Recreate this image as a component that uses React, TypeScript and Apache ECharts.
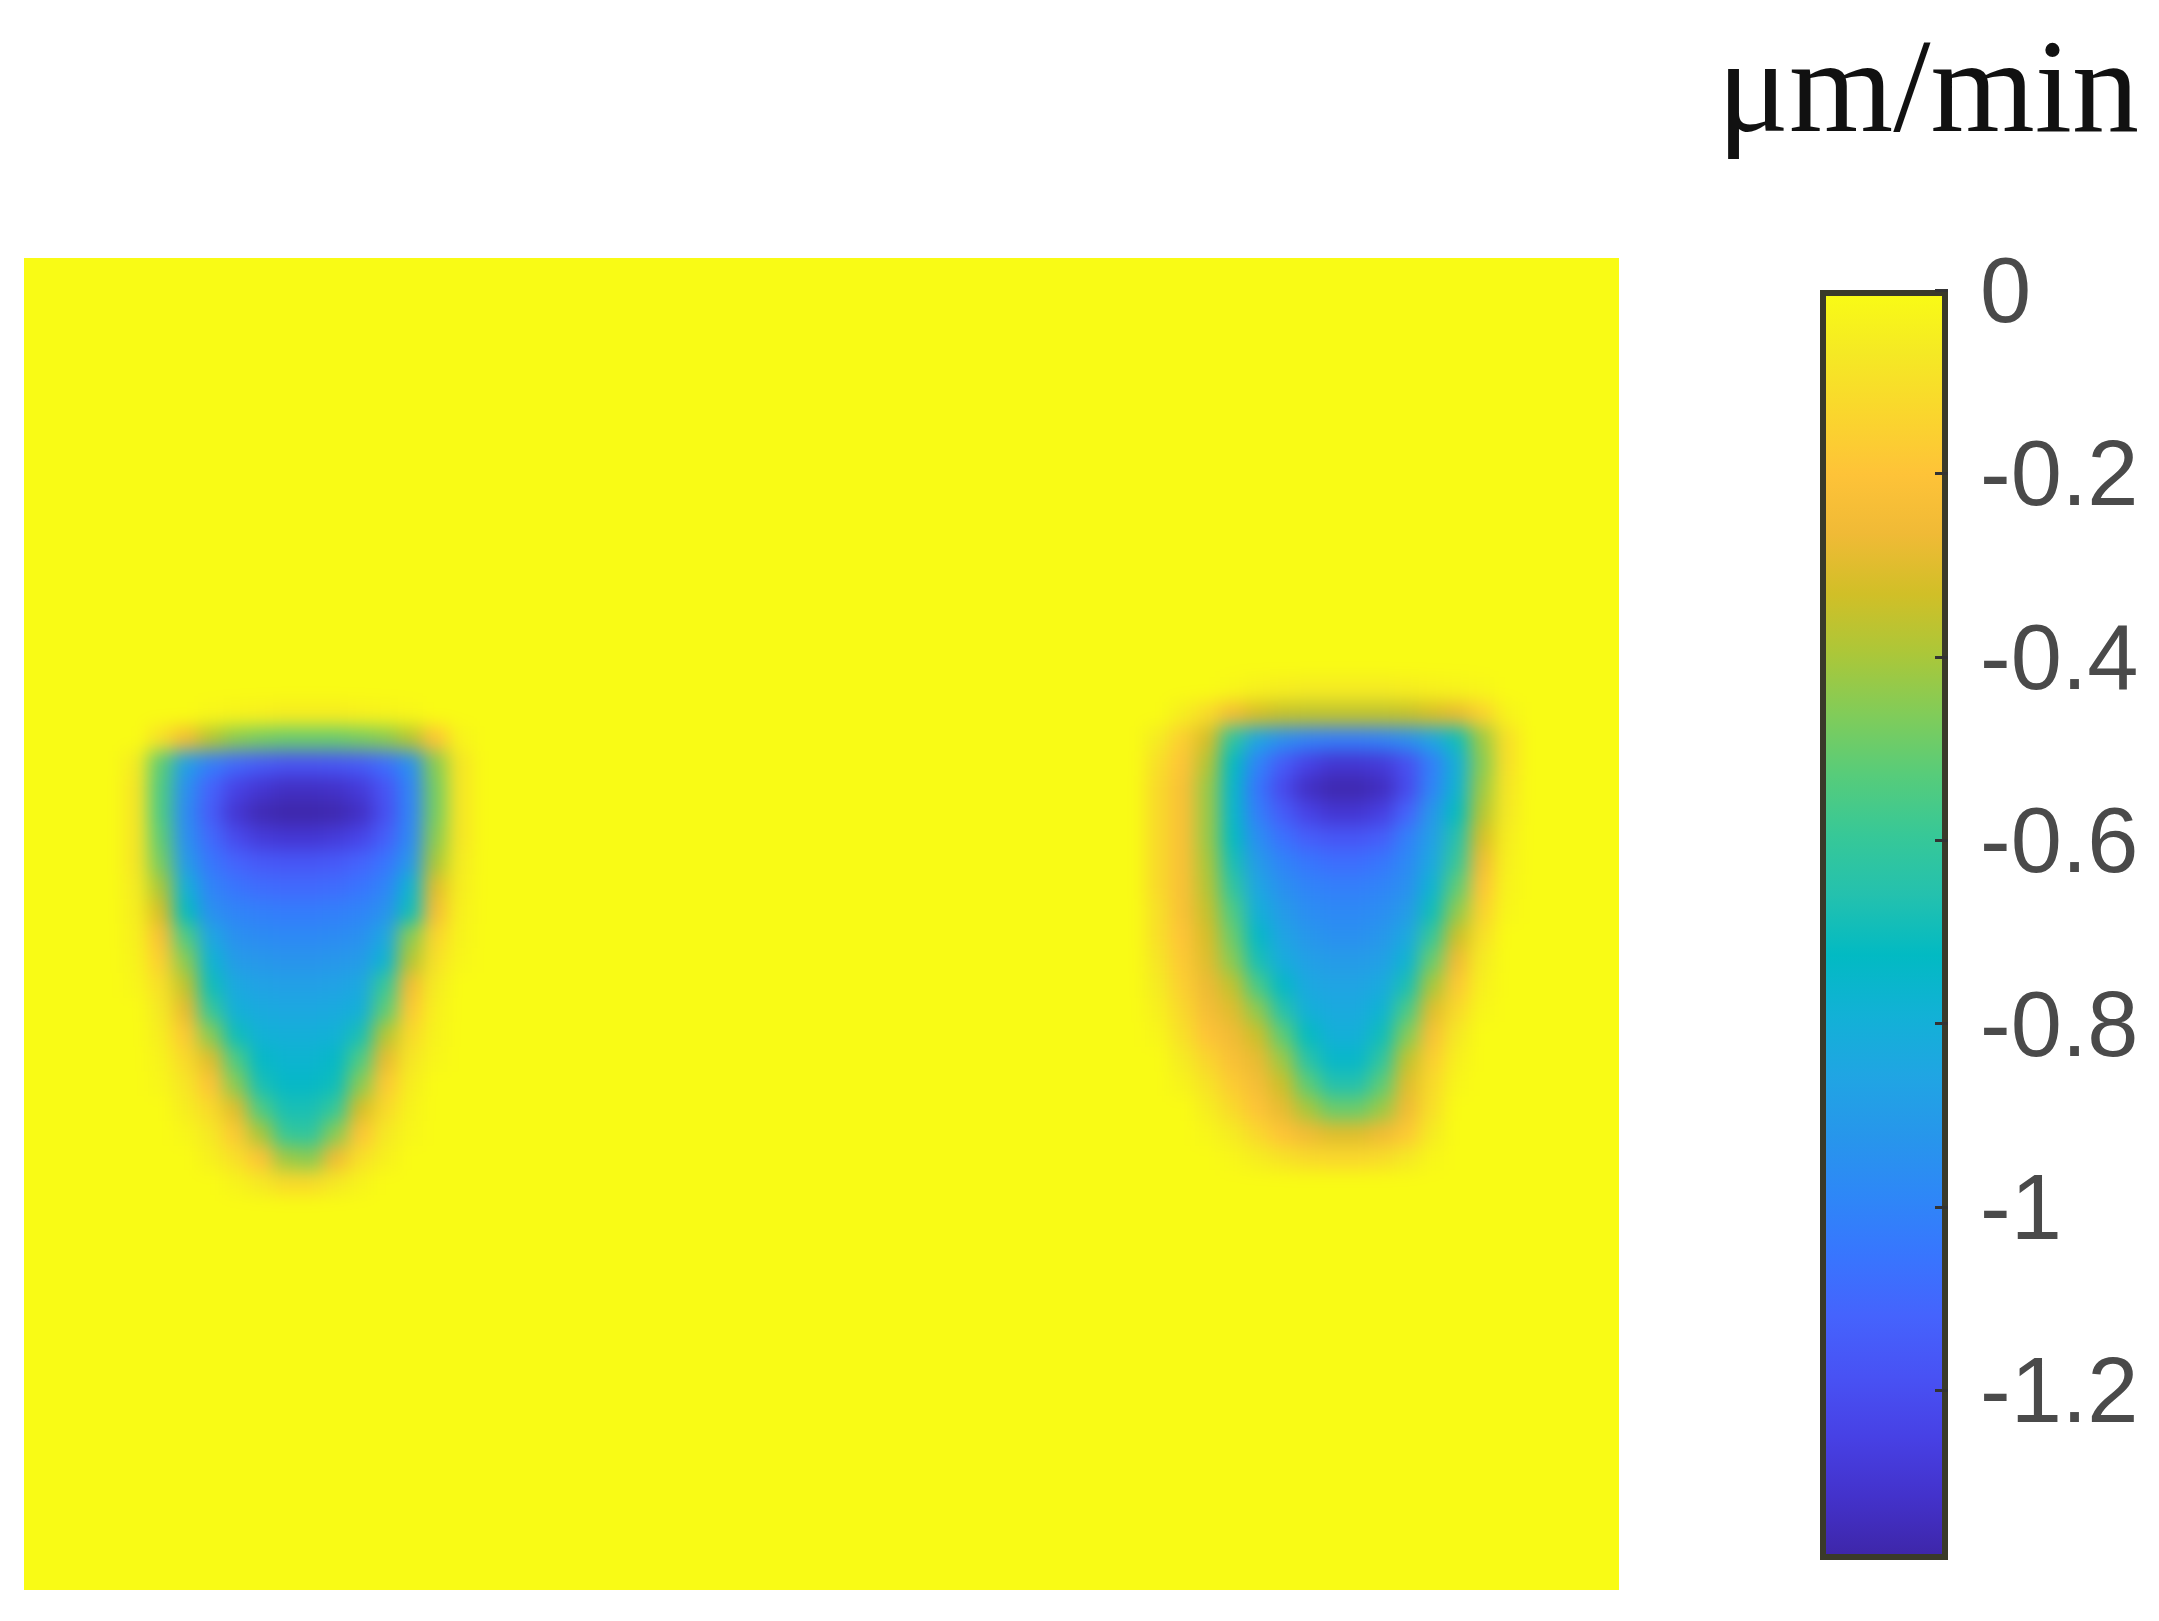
import React, { useEffect, useRef } from "react";
import * as echarts from "echarts";

// ---- data ----
const COLS = 64;
const ROWS = 54;
const VMIN = -1.385;
const VMAX = 0;
const TICKS = [0, -0.2, -0.4, -0.6, -0.8, -1, -1.2];
const UNIT = "μm/min";

// parula colormap stops (low -> high)
const PARULA = [
  "#3e26a8", "#4332cb", "#4741e5", "#4852f4", "#4563fd", "#3875fe", "#2e87f7",
  "#2796eb", "#20a5e3", "#12b1d6", "#02bac3", "#24c1ae", "#37c897", "#57cc7a",
  "#81cc59", "#abc739", "#d1bf27", "#f0ba36", "#fec338", "#fad62d", "#f5e924", "#f9fb15",
];

// left blob: rows 18..37, cols 4..18
const LEFT_COL0 = 4;
const LEFT_ROW0 = 18;
const LEFT_BLOB = [
  [0, 0, 0, -0.02, -0.03, -0.04, -0.05, -0.05, -0.05, -0.04, -0.03, -0.02, 0, 0, 0],
  [0, -0.1, -0.25, -0.38, -0.45, -0.48, -0.5, -0.5, -0.5, -0.48, -0.45, -0.38, -0.2, -0.03, 0],
  [-0.06, -0.52, -0.88, -1.02, -1.1, -1.15, -1.18, -1.18, -1.17, -1.15, -1.08, -0.95, -0.45, -0.08, 0],
  [-0.08, -0.55, -0.95, -1.12, -1.25, -1.3, -1.33, -1.33, -1.32, -1.28, -1.18, -1.0, -0.48, -0.08, 0],
  [-0.08, -0.55, -0.97, -1.15, -1.3, -1.36, -1.38, -1.38, -1.37, -1.33, -1.2, -1.0, -0.48, -0.08, 0],
  [-0.08, -0.52, -0.95, -1.1, -1.22, -1.28, -1.3, -1.3, -1.28, -1.24, -1.14, -0.98, -0.45, -0.08, 0],
  [-0.08, -0.48, -0.9, -1.05, -1.12, -1.16, -1.17, -1.17, -1.16, -1.12, -1.06, -0.92, -0.4, -0.06, 0],
  [-0.06, -0.4, -0.8, -1.0, -1.06, -1.09, -1.1, -1.1, -1.09, -1.06, -1.0, -0.78, -0.3, -0.05, 0],
  [-0.05, -0.32, -0.72, -0.95, -1.0, -1.02, -1.03, -1.03, -1.02, -1.0, -0.94, -0.7, -0.24, -0.04, 0],
  [-0.04, -0.22, -0.55, -0.85, -0.95, -0.97, -0.98, -0.98, -0.97, -0.95, -0.85, -0.45, -0.14, -0.03, 0],
  [-0.03, -0.16, -0.45, -0.78, -0.9, -0.92, -0.93, -0.93, -0.92, -0.9, -0.78, -0.38, -0.1, -0.02, 0],
  [-0.02, -0.1, -0.36, -0.7, -0.84, -0.87, -0.88, -0.88, -0.87, -0.84, -0.6, -0.25, -0.06, 0, 0],
  [0, -0.07, -0.28, -0.6, -0.8, -0.83, -0.84, -0.84, -0.83, -0.8, -0.52, -0.18, -0.04, 0, 0],
  [0, -0.05, -0.18, -0.45, -0.7, -0.79, -0.8, -0.8, -0.79, -0.68, -0.38, -0.12, -0.03, 0, 0],
  [0, -0.03, -0.12, -0.3, -0.55, -0.74, -0.77, -0.77, -0.74, -0.55, -0.28, -0.08, -0.02, 0, 0],
  [0, -0.02, -0.08, -0.2, -0.45, -0.68, -0.74, -0.74, -0.7, -0.45, -0.18, -0.05, 0, 0, 0],
  [0, 0, -0.05, -0.12, -0.3, -0.55, -0.68, -0.68, -0.6, -0.32, -0.12, -0.03, 0, 0, 0],
  [0, 0, -0.02, -0.07, -0.18, -0.4, -0.6, -0.62, -0.45, -0.2, -0.07, -0.02, 0, 0, 0],
  [0, 0, 0, -0.04, -0.1, -0.2, -0.42, -0.45, -0.26, -0.1, -0.04, 0, 0, 0, 0],
  [0, 0, 0, 0, -0.03, -0.07, -0.12, -0.12, -0.07, -0.03, 0, 0, 0, 0, 0],
];

// right blob: rows 17..36, cols 44..60
const RIGHT_COL0 = 44;
const RIGHT_ROW0 = 17;
const RIGHT_BLOB = [
  [0, 0, 0, 0, -0.02, -0.04, -0.05, -0.06, -0.06, -0.06, -0.06, -0.05, -0.04, -0.03, -0.02, 0, 0],
  [0, 0, -0.05, -0.12, -0.25, -0.32, -0.35, -0.36, -0.36, -0.36, -0.36, -0.35, -0.32, -0.28, -0.15, -0.03, 0],
  [0, -0.06, -0.16, -0.32, -0.62, -0.85, -0.95, -1.0, -1.02, -1.02, -1.0, -0.95, -0.85, -0.7, -0.42, -0.1, 0],
  [0, -0.1, -0.2, -0.38, -0.72, -1.0, -1.15, -1.25, -1.3, -1.3, -1.28, -1.2, -1.02, -0.8, -0.45, -0.1, 0],
  [0, -0.12, -0.22, -0.42, -0.75, -1.05, -1.22, -1.33, -1.37, -1.37, -1.34, -1.22, -1.0, -0.78, -0.42, -0.08, 0],
  [0, -0.12, -0.22, -0.42, -0.75, -1.02, -1.15, -1.25, -1.3, -1.3, -1.26, -1.12, -0.92, -0.72, -0.38, -0.07, 0],
  [0, -0.12, -0.22, -0.42, -0.72, -0.96, -1.07, -1.14, -1.17, -1.17, -1.14, -1.02, -0.88, -0.66, -0.32, -0.05, 0],
  [0, -0.12, -0.22, -0.4, -0.68, -0.9, -1.0, -1.05, -1.08, -1.08, -1.05, -0.98, -0.84, -0.6, -0.26, -0.04, 0],
  [0, -0.12, -0.22, -0.38, -0.62, -0.85, -0.95, -1.0, -1.02, -1.02, -1.0, -0.95, -0.78, -0.52, -0.2, -0.03, 0],
  [0, -0.1, -0.22, -0.35, -0.55, -0.8, -0.9, -0.96, -0.98, -0.98, -0.96, -0.9, -0.7, -0.44, -0.15, -0.02, 0],
  [0, -0.1, -0.2, -0.32, -0.5, -0.74, -0.86, -0.92, -0.95, -0.95, -0.92, -0.84, -0.6, -0.34, -0.1, 0, 0],
  [0, -0.08, -0.18, -0.3, -0.45, -0.68, -0.82, -0.88, -0.9, -0.9, -0.88, -0.78, -0.5, -0.26, -0.06, 0, 0],
  [0, -0.06, -0.16, -0.27, -0.36, -0.56, -0.74, -0.84, -0.86, -0.86, -0.83, -0.68, -0.4, -0.18, -0.04, 0, 0],
  [0, -0.04, -0.13, -0.24, -0.3, -0.44, -0.65, -0.8, -0.83, -0.83, -0.78, -0.56, -0.3, -0.12, -0.02, 0, 0],
  [0, -0.02, -0.1, -0.2, -0.26, -0.34, -0.52, -0.72, -0.8, -0.8, -0.7, -0.46, -0.22, -0.07, 0, 0, 0],
  [0, 0, -0.06, -0.14, -0.22, -0.28, -0.42, -0.64, -0.75, -0.75, -0.62, -0.36, -0.16, -0.04, 0, 0, 0],
  [0, 0, -0.03, -0.09, -0.17, -0.24, -0.34, -0.52, -0.66, -0.66, -0.52, -0.3, -0.12, -0.02, 0, 0, 0],
  [0, 0, 0, -0.05, -0.12, -0.2, -0.28, -0.4, -0.5, -0.5, -0.42, -0.26, -0.1, 0, 0, 0, 0],
  [0, 0, 0, -0.02, -0.06, -0.13, -0.2, -0.26, -0.3, -0.3, -0.26, -0.18, -0.06, 0, 0, 0, 0],
  [0, 0, 0, 0, -0.02, -0.05, -0.09, -0.12, -0.13, -0.13, -0.11, -0.07, -0.02, 0, 0, 0, 0],
];

function lookup(blob: number[][], r0: number, c0: number, r: number, c: number): number | null {
  const rr = r - r0;
  const cc = c - c0;
  if (rr < 0 || rr >= blob.length) return null;
  if (cc < 0 || cc >= blob[rr].length) return null;
  return blob[rr][cc];
}

function buildCells(): [number, number, number][] {
  const out: [number, number, number][] = [];
  for (let r = 0; r < ROWS; r++) {
    for (let c = 0; c < COLS; c++) {
      let v = lookup(LEFT_BLOB, LEFT_ROW0, LEFT_COL0, r, c);
      if (v === null) v = lookup(RIGHT_BLOB, RIGHT_ROW0, RIGHT_COL0, r, c);
      out.push([c, r, v === null ? 0 : v]);
    }
  }
  return out;
}

export default function App() {
  const mainRef = useRef<HTMLDivElement>(null);
  const heatRef = useRef<HTMLDivElement>(null);
  useEffect(() => {
    if (!mainRef.current || !heatRef.current) return;
    const heat = echarts.init(heatRef.current, undefined, { renderer: "svg" });
    const main = echarts.init(mainRef.current, undefined, { renderer: "svg" });
    const colIdx = Array.from({ length: COLS }, (_, i) => String(i));
    const rowIdx = Array.from({ length: ROWS }, (_, i) => String(i));
    const top = PARULA[PARULA.length - 1];

    heat.setOption({
      animation: false,
      backgroundColor: top,
      grid: { left: 40, top: 40, width: 1595, height: 1332, show: true, backgroundColor: top, borderWidth: 0 },
      xAxis: { type: "category", data: colIdx, show: false },
      yAxis: { type: "category", data: rowIdx, inverse: true, show: false },
      visualMap: {
        type: "continuous",
        show: false,
        min: VMIN,
        max: VMAX,
        inRange: { color: PARULA },
      },
      series: [
        {
          type: "heatmap",
          data: buildCells(),
          itemStyle: { borderWidth: 0 },
          emphasis: { disabled: true },
        },
      ],
    });

    const barStops = PARULA.map((_, i) => ({
      offset: i / (PARULA.length - 1),
      color: PARULA[PARULA.length - 1 - i],
    }));
    main.setOption({
      animation: false,
      grid: { left: 1820, top: 290, width: 128, height: 1270, show: false },
      xAxis: { type: "category", data: ["cb"], show: false },
      yAxis: {
        type: "value",
        min: VMIN,
        max: VMAX,
        position: "right",
        z: 5,
        axisLine: { show: false },
        splitLine: { show: false },
        axisTick: {
          show: true,
          inside: true,
          length: 13,
          customValues: TICKS,
          lineStyle: { color: "#333333", width: 3 },
        },
        axisLabel: {
          show: true,
          customValues: TICKS,
          margin: 32,
          fontSize: 92,
          fontFamily: "Liberation Sans, Arial, sans-serif",
          color: "#4a4a4a",
          formatter: (v: number) => String(Math.round(v * 10) / 10),
        },
      },
      graphic: [
        {
          type: "text",
          x: 1928,
          y: 86,
          style: {
            text: UNIT,
            fontSize: 134,
            fontFamily: "Liberation Serif, Times New Roman, serif",
            fill: "#111111",
            align: "center",
            verticalAlign: "middle",
          },
        },
      ],
      series: [
        {
          type: "bar",
          data: [VMIN],
          barWidth: "100%",
          silent: true,
          itemStyle: {
            color: new echarts.graphic.LinearGradient(0, 0, 0, 1, barStops),
            borderColor: "#3a3a2a",
            borderWidth: 6,
          },
        },
      ],
    });
    return () => {
      heat.dispose();
      main.dispose();
    };
  }, []);
  return (
    <div style={{ position: "fixed", left: 0, top: 0, width: 2159, height: 1621, background: "#fff" }}>
      <div ref={mainRef} style={{ position: "absolute", left: 0, top: 0, width: 2159, height: 1621 }} />
      <div
        style={{
          position: "absolute",
          left: 24,
          top: 258,
          width: 1595,
          height: 1332,
          overflow: "hidden",
        }}
      >
        <div
          ref={heatRef}
          style={{
            position: "absolute",
            left: -40,
            top: -40,
            width: 1675,
            height: 1412,
            filter: "blur(9px)",
          }}
        />
      </div>
    </div>
  );
}
